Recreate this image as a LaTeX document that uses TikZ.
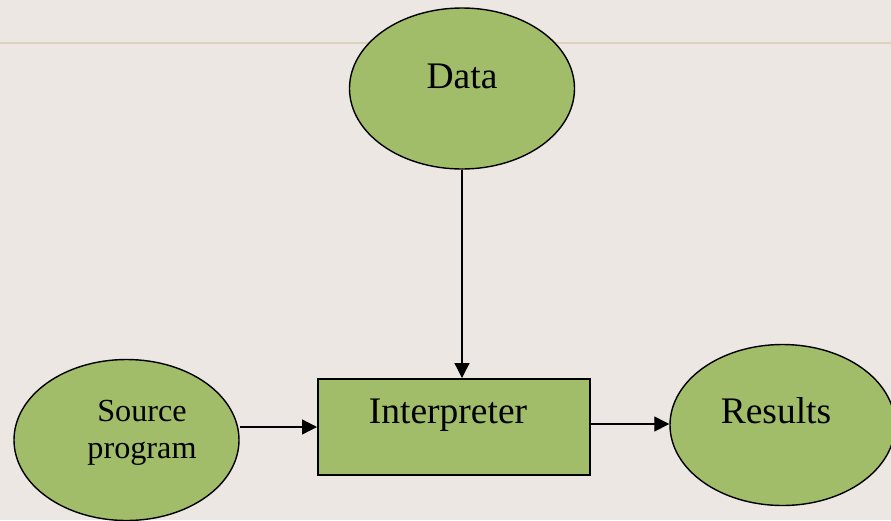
\documentclass[tikz,border=0pt]{standalone}
\usepackage{fontspec}
\setmainfont{Liberation Serif}
\usetikzlibrary{shapes.geometric,arrows.meta}
\definecolor{paper}{HTML}{ECE7E3}
\definecolor{rule}{HTML}{DDD3BA}
\definecolor{leaf}{HTML}{A2BD6A}
\tikzset{
  blob/.style={ellipse, draw=black, line width=1.4pt, fill=leaf,
    minimum width=225pt, minimum height=161pt, inner sep=0pt},
  procbox/.style={rectangle, draw=black, line width=2pt, fill=leaf,
    minimum width=272pt, minimum height=96pt, inner sep=0pt},
  caption/.style={anchor=base, inner sep=0pt, font=\fontsize{37.5}{45}\selectfont},
  smallcaption/.style={anchor=base, inner sep=0pt, align=center,
    font=\fontsize{32.2}{37}\selectfont},
  flow/.style={-{Triangle[length=15pt,width=15pt]}, line width=1.3pt}
}
\begin{document}
\begin{tikzpicture}[x=1pt,y=-1pt]
  \fill[paper] (0,0) rectangle (891,520);
  \useasboundingbox (0,0) rectangle (891,520);
  \clip (0,0) rectangle (891,520);
  % header rule
  \draw[rule, line width=2pt] (0,43) -- (891,43);

  % shapes
  \node[blob] (data) at (462,88.5) {};
  \node[blob] (source) at (126.5,440) {};
  \node[blob] (results) at (782.5,425) {};
  \node[procbox] (interp) at (454,427) {};

  % labels
  \node[caption] (datatxt) at (462,88) {Data};
  \node[caption] (interptxt) at (448,423) {Interpreter};
  \node[caption] (resultstxt) at (776,423) {Results};
  \node[smallcaption] (sourcetxt) at (142,458) {Source\\program};

  % connectors
  \draw[flow] (data.south) -- (data.south |- interp.north);
  \draw[flow] (source.east |- 0,427) -- (interp.west |- 0,427);
  \draw[flow] (interp.east |- 0,424) -- (results.west |- 0,424);
\end{tikzpicture}
\end{document}
